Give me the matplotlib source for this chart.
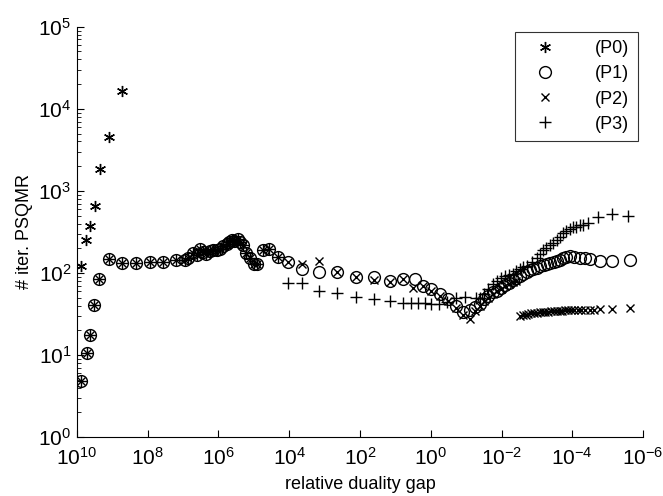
import numpy as np
import matplotlib
matplotlib.use("Agg")
import matplotlib.pyplot as plt

plt.rcParams['font.family'] = ['Liberation Sans', 'DejaVu Sans']
plt.rcParams['mathtext.fontset'] = 'custom'
plt.rcParams['mathtext.rm'] = 'Liberation Sans'
plt.rcParams['mathtext.it'] = 'Liberation Sans'
plt.rcParams['mathtext.default'] = 'regular'

# exponents of the relative duality gap (x) and iteration counts (y)
p0_gap = [9.887, 9.73, 9.633, 9.49, 9.35, 9.09, 8.73]
p0_iter = [123, 254, 369, 650, 1840, 4520, 16500]

# P1, P2, P3 coincide at the start
shared_gap = [9.887, 9.726, 9.633, 9.52, 9.37, 9.09, 8.72, 8.33, 7.94, 7.56,
              7.20, 6.95, 6.85, 6.73, 6.62, 6.53, 6.45, 6.36, 6.25, 6.15,
              6.05, 5.96, 5.87, 5.77, 5.70, 5.63, 5.55, 5.44, 5.38, 5.30,
              5.21, 5.10, 5.00, 4.92, 4.74, 4.57, 4.31]
shared_iter = [4.8, 10.5, 17.5, 41, 84, 149, 133, 131, 135, 135,
               145, 145, 150, 176, 165, 197, 180, 171, 185, 192,
               190, 197, 210, 227, 235, 249, 245, 261, 240, 216,
               176, 150, 129, 130, 192, 197, 156]

p1_gap = [4.03, 3.65, 3.16, 2.65, 2.12, 1.61, 1.16, 0.78, 0.45, 0.22,
          -0.02, -0.25, -0.49, -0.71, -0.91, -1.10, -1.25, -1.38, -1.50, -1.62,
          -1.75, -1.86, -1.98, -2.10, -2.20, -2.32, -2.42, -2.52, -2.62, -2.72,
          -2.80, -2.90, -3.00, -3.10, -3.20, -3.28, -3.38, -3.48, -3.56, -3.64,
          -3.73, -3.83, -3.93, -4.05, -4.21, -4.35, -4.49, -4.77, -5.11, -5.62]
p1_iter = [135, 112, 102, 102, 89, 89, 79, 85, 85, 70,
           64, 56, 48, 40, 33, 35, 38, 42, 48, 53,
           58, 61, 66, 71, 76, 81, 86, 92, 98, 104,
           107, 112, 116, 120, 125, 128, 133, 137, 140, 144,
           150, 155, 159, 157, 154, 150, 146, 138, 139, 145]

p2_gap = [4.03, 3.65, 3.16, 2.65, 2.12, 1.61, 1.16, 0.78, 0.50, 0.22,
          -0.02, -0.25, -0.49, -0.71, -0.91, -1.12, -1.25, -1.38, -1.50, -1.62,
          -1.75, -1.86, -1.98, -2.10, -2.20, -2.32, -2.42,
          -2.51, -2.60, -2.68, -2.76, -2.84, -2.92, -3.00, -3.08, -3.16, -3.24,
          -3.32, -3.40, -3.48, -3.56, -3.64, -3.72, -3.80, -3.88, -3.96, -4.05,
          -4.15, -4.25, -4.36, -4.49, -4.62, -4.77, -5.11, -5.62]
p2_iter = [135, 129, 139, 102, 89, 82, 77, 85, 66, 70,
           60, 52, 45, 37, 31, 27.5, 34, 40, 45, 50,
           55, 60, 64, 69, 73, 77, 80,
           30, 30.5, 31, 31.5, 32, 32, 32.5, 33, 33, 33.5,
           33.5, 34, 34, 34.5, 34.5, 34.5, 35, 35, 35, 35,
           35, 35, 35, 35.5, 35.5, 36, 36.5, 37]

p3_gap = [4.03, 3.65, 3.16, 2.65, 2.12, 1.61, 1.16, 0.78, 0.55, 0.36,
          0.17, -0.02, -0.23, -0.45, -0.71, -0.96, -1.29, -1.38, -1.50, -1.62,
          -1.75, -1.86, -1.98, -2.10, -2.20, -2.32, -2.42, -2.52, -2.62, -2.71,
          -2.85, -2.99, -3.08, -3.16, -3.25, -3.36, -3.45, -3.56, -3.64, -3.73,
          -3.83, -3.93, -4.01, -4.11, -4.21, -4.29, -4.43, -4.72, -5.11, -5.56]
p3_iter = [75, 75, 60, 57, 51, 48, 45, 43, 43, 43,
           43, 42, 42, 44, 50, 51, 50, 50, 56, 63,
           74, 80, 86, 92, 95, 98, 105, 112, 118, 123,
           134, 154, 170, 188, 200, 216, 232, 249, 275, 303,
           320, 340, 359, 359, 380, 385, 402, 475, 518, 489]

fig = plt.figure(figsize=(6.63, 4.96), dpi=100)
ax = fig.add_axes([0.116, 0.119, 0.854, 0.827])

style = dict(linestyle='none', color='k', markerfacecolor='none', markeredgewidth=1.0)
ax.plot(10.0 ** np.array(p0_gap), p0_iter, marker=(6, 2, 0), markersize=8, label='(P0)', **style)
ax.plot(10.0 ** np.array(shared_gap + p1_gap), shared_iter + p1_iter,
        marker='o', markersize=8.5, label='(P1)', **style)
ax.plot(10.0 ** np.array(shared_gap + p2_gap), shared_iter + p2_iter,
        marker='x', markersize=6, label='(P2)', **style)
ax.plot(10.0 ** np.array(shared_gap + p3_gap), shared_iter + p3_iter,
        marker='+', markersize=8, label='(P3)', **style)

ax.set_xscale('log')
ax.set_yscale('log')
ax.set_xlim(1e10, 1e-6)
ax.set_ylim(1e0, 1e5)

ax.set_xticks([10.0 ** k for k in range(10, -7, -2)])
ax.xaxis.set_minor_locator(matplotlib.ticker.NullLocator())
ax.set_yticks([10.0 ** k for k in range(0, 6)])

ax.spines['top'].set_visible(False)
ax.spines['right'].set_visible(False)
ax.tick_params(which='both', direction='in', labelsize=15)
ax.tick_params(which='major', length=5)
ax.tick_params(which='minor', length=3)
ax.tick_params(axis='x', pad=7)
ax.tick_params(axis='y', pad=4)

ax.set_xlabel('relative duality gap', fontsize=13, labelpad=5)
ax.set_ylabel('# iter. PSQMR', fontsize=13, labelpad=4)

leg = ax.legend(loc='upper right', fontsize=13, frameon=True, fancybox=False,
                edgecolor='k', borderaxespad=0.3, handletextpad=1.6,
                handlelength=2.4, labelspacing=0.45, borderpad=0.45)
leg.get_frame().set_linewidth(0.8)

fig.savefig('out.png', dpi=100)
